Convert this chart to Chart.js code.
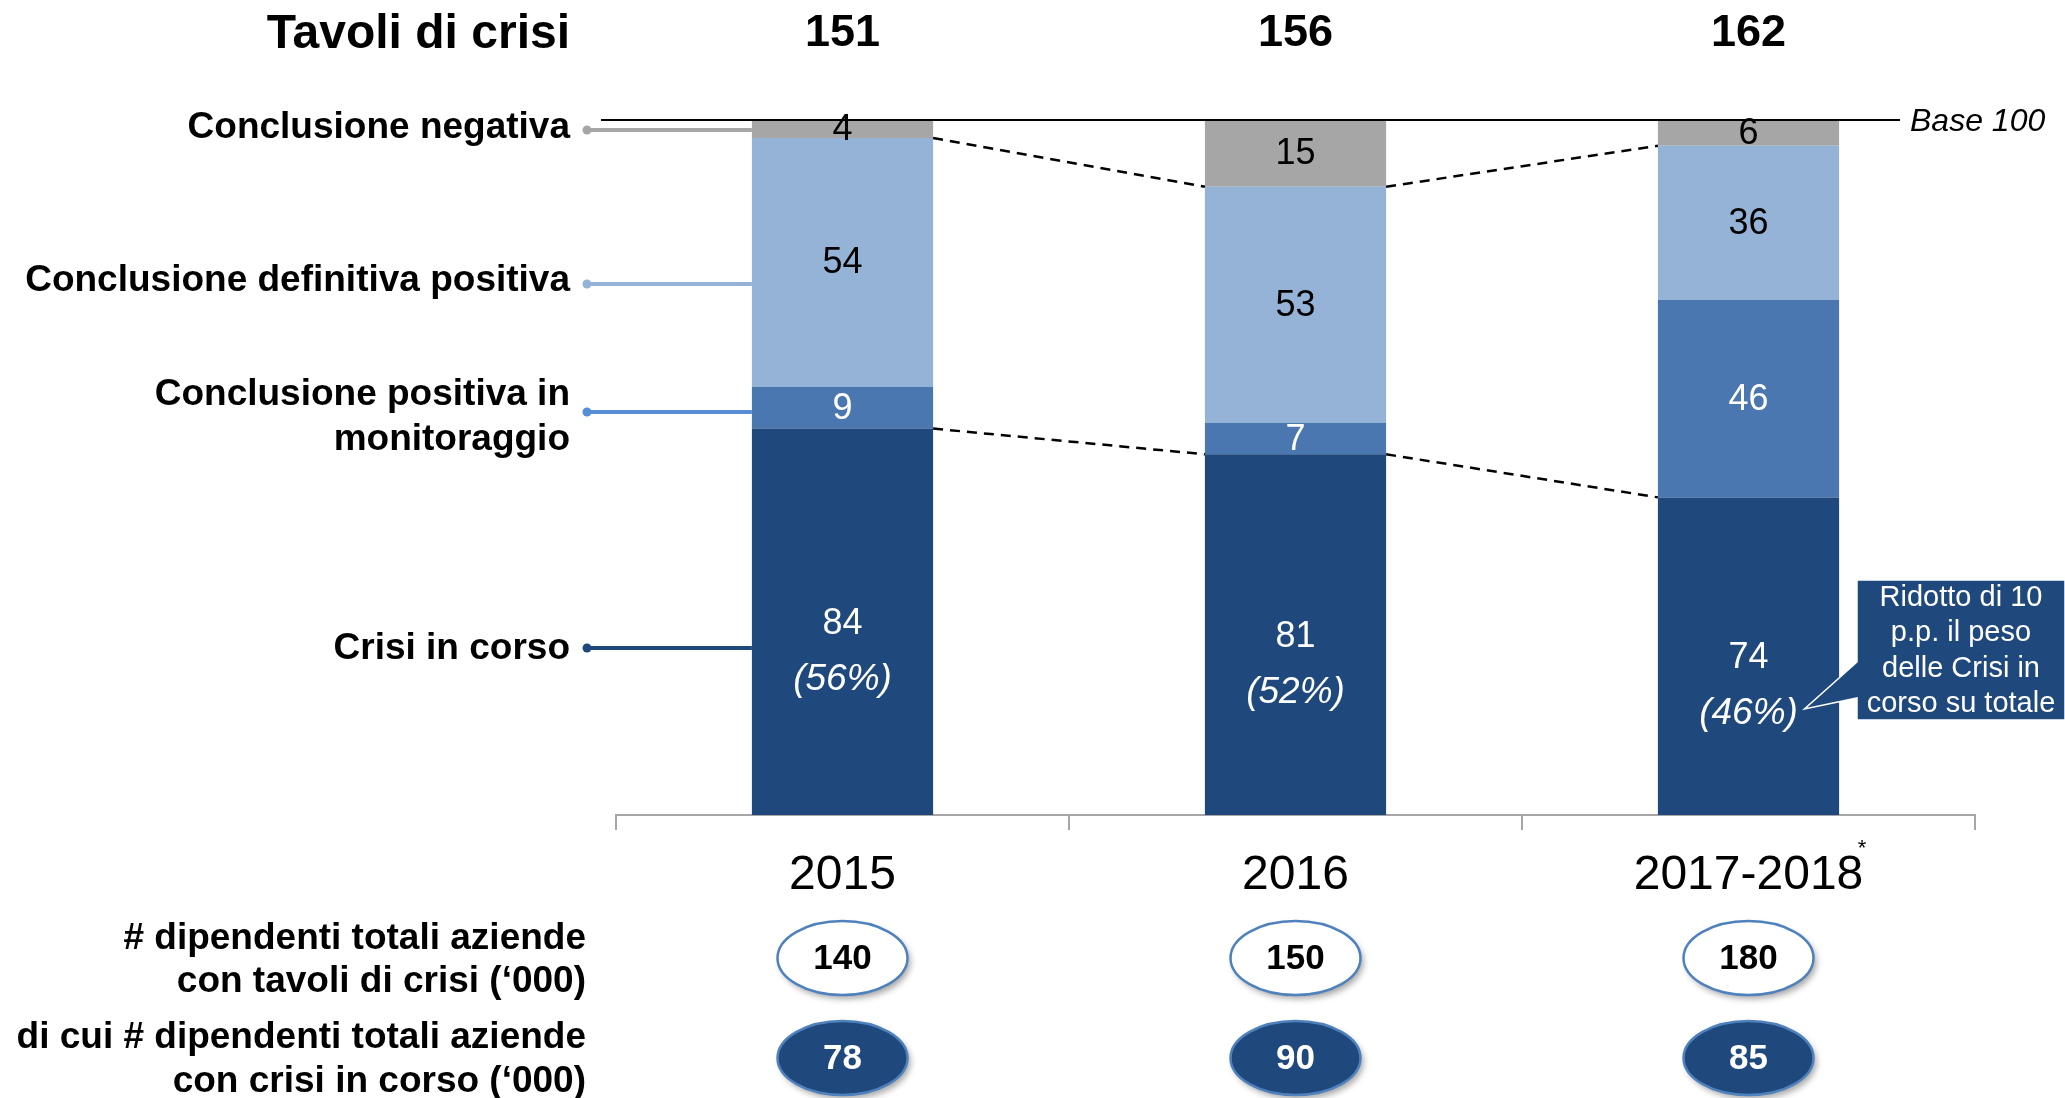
<!DOCTYPE html>
<html>
<head>
<meta charset="utf-8">
<script src="https://cdn.jsdelivr.net/npm/chart.js@4.4.1/dist/chart.umd.min.js"></script>
<style>
  html, body { margin: 0; padding: 0; background: #fff; }
  #wrap { width: 2065px; height: 1098px; position: relative; }
</style>
</head>
<body>
<div id="wrap"><canvas id="crisisChart" width="2065" height="1098"></canvas></div>
<script>
const categories = ['2015', '2016', '2017-2018'];
const totalTables = [151, 156, 162];

// counts written in the segments
const crisiCount = [84, 81, 74];
const monitorCount = [9, 7, 46];
const positiveCount = [54, 53, 36];
const negativeCount = [4, 15, 6];
const crisiShareLabel = ['(56%)', '(52%)', '(46%)'];

// segment heights on base 100
const crisiShare = [55.6, 51.9, 45.7];
const monitorShare = [6.0, 4.5, 28.4];
const positiveShare = [35.8, 34.0, 22.2];
const negativeShare = [2.6, 9.6, 3.7];

const employeesTotal = [140, 150, 180];
const employeesCrisis = [78, 90, 85];

const FONT = '"Liberation Sans", Arial, sans-serif';
const DARK = '#1F497D';
const MID = '#4A77AF';
const LIGHT = '#95B3D7';
const GREY = '#A6A6A6';

function text(ctx, s, x, y, size, opts) {
    opts = opts || {};
    ctx.save();
    ctx.font = (opts.style || '') + ' ' + (opts.weight || 'normal') + ' ' + size + 'px ' + FONT;
    ctx.fillStyle = opts.color || '#000';
    ctx.textAlign = opts.align || 'center';
    ctx.textBaseline = 'middle';
    ctx.fillText(s, x, y);
    ctx.restore();
}

const decorPlugin = {
    id: 'decor',
    afterDatasetsDraw(chart) {
        const ctx = chart.ctx;
        const area = chart.chartArea;
        const bars = i => chart.getDatasetMeta(i).data;
        const crisiBars = bars(0), monitorBars = bars(1), positiveBars = bars(2), negBars = bars(3);

        // dashed connectors between bars
        ctx.save();
        ctx.strokeStyle = '#000';
        ctx.lineWidth = 2.5;
        ctx.setLineDash([10, 7]);
        [crisiBars, positiveBars].forEach(set => {
            for (let j = 0; j < set.length - 1; j++) {
                const a = set[j], b = set[j + 1];
                ctx.beginPath();
                ctx.moveTo(a.x + a.width / 2, a.y);
                ctx.lineTo(b.x - b.width / 2, b.y);
                ctx.stroke();
            }
        });
        ctx.restore();

        // segment labels
        const segs = [
            { set: negBars, vals: negativeCount, color: '#000' },
            { set: positiveBars, vals: positiveCount, color: '#000' },
            { set: monitorBars, vals: monitorCount, color: '#fff' }
        ];
        segs.forEach(s => {
            s.set.forEach((b, j) => {
                text(ctx, String(s.vals[j]), b.x, (b.y + b.base) / 2 + 1, 36, { color: s.color });
            });
        });
        crisiBars.forEach((b, j) => {
            const cy = (b.y + b.base) / 2;
            text(ctx, String(crisiCount[j]), b.x, cy + 2, 36, { color: '#fff' });
            text(ctx, crisiShareLabel[j], b.x, cy + 58, 37, { color: '#fff', style: 'italic' });
        });

        // base 100 line
        ctx.save();
        ctx.strokeStyle = '#000';
        ctx.lineWidth = 2;
        ctx.beginPath();
        ctx.moveTo(601, area.top);
        ctx.lineTo(1900, area.top);
        ctx.stroke();
        ctx.restore();
        text(ctx, 'Base 100', 1910, area.top + 2, 32, { align: 'left', style: 'italic' });

        // title row
        text(ctx, 'Tavoli di crisi', 570, 35, 48, { align: 'right', weight: 'bold' });
        crisiBars.forEach((b, j) => {
            text(ctx, String(totalTables[j]), b.x, 34, 45, { weight: 'bold' });
        });

        // legend leaders on the left
        const leftEdge = crisiBars[0].x - crisiBars[0].width / 2;
        const leaders = [
            { y: 130, color: GREY, lines: [['Conclusione negativa', 128]] },
            { y: 284, color: LIGHT, lines: [['Conclusione definitiva positiva', 281]] },
            { y: 412, color: '#558ED5', lines: [['Conclusione positiva in', 395], ['monitoraggio', 440]] },
            { y: 648, color: DARK, lines: [['Crisi in corso', 649]] }
        ];
        leaders.forEach(l => {
            ctx.save();
            ctx.strokeStyle = l.color;
            ctx.fillStyle = l.color;
            ctx.lineWidth = 4;
            ctx.beginPath();
            ctx.moveTo(587, l.y);
            ctx.lineTo(leftEdge, l.y);
            ctx.stroke();
            ctx.beginPath();
            ctx.arc(587, l.y, 4.5, 0, Math.PI * 2);
            ctx.fill();
            ctx.restore();
            l.lines.forEach(([s, y]) => text(ctx, s, 570, y, 37, { align: 'right', weight: 'bold' }));
        });

        // callout
        const last = crisiBars[crisiBars.length - 1];
        ctx.save();
        ctx.fillStyle = DARK;
        ctx.strokeStyle = '#fff';
        ctx.lineWidth = 1.5;
        ctx.beginPath();
        ctx.moveTo(1857, 580);
        ctx.lineTo(2065, 580);
        ctx.lineTo(2065, 720);
        ctx.lineTo(1857, 720);
        ctx.lineTo(1857, 698);
        ctx.lineTo(last.x + 56, 709);
        ctx.lineTo(1857, 662);
        ctx.closePath();
        ctx.fill();
        ctx.stroke();
        ctx.restore();
        ['Ridotto di 10', 'p.p. il peso', 'delle Crisi in', 'corso su totale'].forEach((s, k) => {
            text(ctx, s, 1961, 598 + k * 35.3, 29, { color: '#fff' });
        });

        // asterisk on last category label
        text(ctx, '*', 1862, 849, 22);

        // employee ellipses
        const drawEllipse = (cx, cy, fill, val, color) => {
            ctx.save();
            ctx.shadowColor = 'rgba(0,0,0,0.35)';
            ctx.shadowBlur = 6;
            ctx.shadowOffsetX = 3;
            ctx.shadowOffsetY = 4;
            ctx.beginPath();
            ctx.ellipse(cx, cy, 65, 37, 0, 0, Math.PI * 2);
            ctx.fillStyle = fill;
            ctx.fill();
            ctx.shadowColor = 'transparent';
            ctx.lineWidth = 2.5;
            ctx.strokeStyle = '#4F81BD';
            ctx.stroke();
            ctx.restore();
            text(ctx, String(val), cx, cy + 1, 35, { weight: 'bold', color: color });
        };
        crisiBars.forEach((b, j) => {
            drawEllipse(b.x, 958, '#fff', employeesTotal[j], '#000');
            drawEllipse(b.x, 1058, DARK, employeesCrisis[j], '#fff');
        });
        text(ctx, '# dipendenti totali aziende', 586, 939, 37, { align: 'right', weight: 'bold' });
        text(ctx, 'con tavoli di crisi (\u2018000)', 586, 982, 37, { align: 'right', weight: 'bold' });
        text(ctx, 'di cui # dipendenti totali aziende', 586, 1038, 37, { align: 'right', weight: 'bold' });
        text(ctx, 'con crisi in corso (\u2018000)', 586, 1082, 37, { align: 'right', weight: 'bold' });
    }
};

function initChart() {
    const ctx = document.getElementById('crisisChart').getContext('2d');
    new Chart(ctx, {
        type: 'bar',
        data: {
            labels: categories,
            datasets: [
                { label: 'Crisi in corso', data: crisiShare, backgroundColor: DARK },
                { label: 'Conclusione positiva in monitoraggio', data: monitorShare, backgroundColor: MID },
                { label: 'Conclusione definitiva positiva', data: positiveShare, backgroundColor: LIGHT },
                { label: 'Conclusione negativa', data: negativeShare, backgroundColor: GREY }
            ]
        },
        options: {
            responsive: false,
            devicePixelRatio: 1,
            animation: false,
            layout: { padding: { left: 616, right: 90, top: 120, bottom: 183 } },
            datasets: { bar: { categoryPercentage: 1, barPercentage: 0.4 } },
            plugins: {
                legend: { display: false },
                tooltip: { enabled: false }
            },
            scales: {
                x: {
                    stacked: true,
                    grid: { offset: true, drawOnChartArea: false, tickLength: 15, color: '#A6A6A6', lineWidth: 2 },
                    border: { display: true, color: '#A6A6A6', width: 2 },
                    ticks: { color: '#000', font: { family: FONT, size: 48 }, padding: 17, maxRotation: 0 },
                    afterFit: s => { s.height = 100; }
                },
                y: { stacked: true, display: false, min: 0, max: 100 }
            }
        },
        plugins: [decorPlugin]
    });
}

document.addEventListener('DOMContentLoaded', initChart);
</script>
</body>
</html>
